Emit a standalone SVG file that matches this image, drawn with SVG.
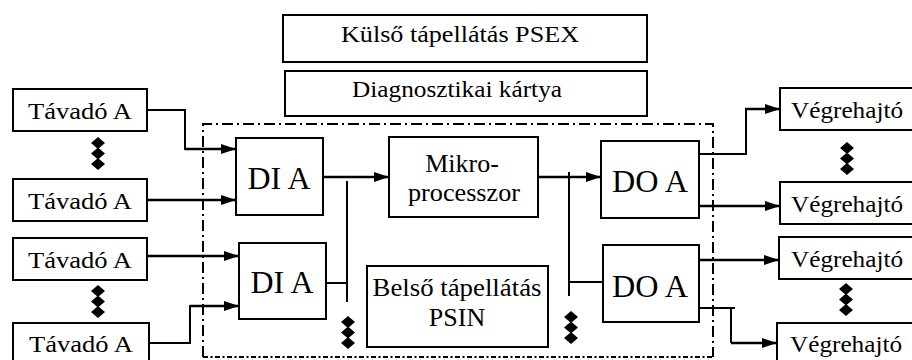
<svg xmlns="http://www.w3.org/2000/svg" width="912" height="360" viewBox="0 0 912 360">
<defs>
<style>
.box{fill:#fff;stroke:#000;stroke-width:2}
.t{font-family:"Liberation Serif","Times New Roman",serif;fill:#000;text-anchor:middle}
.s{font-size:24px}
.m{font-size:26px}
.b{font-size:31px}
.ln{fill:none;stroke:#000;stroke-width:2}
.ar{fill:none;stroke:#000;stroke-width:2.6;marker-end:url(#ah)}
.dd{fill:none;stroke:#000;stroke-width:2}
</style>
<marker id="ah" viewBox="0 0 15 10" refX="15" refY="5" markerWidth="15" markerHeight="10" markerUnits="userSpaceOnUse" orient="auto">
<path d="M0,0 L15,5 L0,10 z" fill="#000"/>
</marker>
<g id="dia">
<path d="M0,-6 L7,0 L0,6 L-7,0 z M0,4.5 L7,10.5 L0,16.5 L-7,10.5 z M0,15 L7,21 L0,27 L-7,21 z" fill="#000"/>
</g>
</defs>
<rect width="912" height="360" fill="#fff"/>

<g id="frame">
<path class="dd" d="M203,357 V124 H713 V357" stroke-dasharray="11 4 2 4"/>
<path class="dd" d="M203,357 H713" stroke-dasharray="5 2.5 2 2.5"/>
</g>

<g id="connectors">
<path class="ln" d="M147,110 H185 V149 H189"/>
<path class="ar" d="M185,149 H236"/>
<path class="ar" d="M147,200 H236"/>
<path class="ar" d="M147,256 H239"/>
<path class="ln" d="M149,343 H190 V306 H193"/>
<path class="ar" d="M190,306 H239"/>
<path class="ar" d="M323,177 H389"/>
<path class="ln" d="M347,181 V302"/>
<path class="ln" d="M326,283 H347"/>
<path class="ar" d="M538,177 H601"/>
<path class="ln" d="M569,172 V296"/>
<path class="ln" d="M569,282 H603"/>
<path class="ln" d="M699,154 H746 V109"/>
<path class="ar" d="M745,109 H780"/>
<path class="ar" d="M699,206 H780"/>
<path class="ar" d="M699,260 H779"/>
<path class="ln" d="M699,308 H735 M731,308 V343"/>
<path class="ar" d="M731,343 H777"/>
</g>

<g id="psex">
<rect class="box" x="283" y="15" width="364" height="47"/>
<text class="t s" x="460" y="42" textLength="238" lengthAdjust="spacingAndGlyphs">Külső tápellátás PSEX</text>
</g>
<g id="diag">
<rect class="box" x="285" y="71" width="362" height="45"/>
<text class="t s" x="457" y="97" textLength="210" lengthAdjust="spacingAndGlyphs">Diagnosztikai kártya</text>
</g>

<g id="tavado1">
<rect class="box" x="13" y="89" width="134" height="42"/>
<text class="t s" x="80" y="119" textLength="104" lengthAdjust="spacingAndGlyphs">Távadó A</text>
</g>
<g id="tavado2">
<rect class="box" x="13" y="179" width="134" height="42"/>
<text class="t s" x="80" y="209" textLength="104" lengthAdjust="spacingAndGlyphs">Távadó A</text>
</g>
<g id="tavado3">
<rect class="box" x="13" y="238" width="134" height="42"/>
<text class="t s" x="80" y="268" textLength="104" lengthAdjust="spacingAndGlyphs">Távadó A</text>
</g>
<g id="tavado4">
<rect class="box" x="13" y="323" width="136" height="42"/>
<text class="t s" x="81" y="352" textLength="104" lengthAdjust="spacingAndGlyphs">Távadó A</text>
</g>

<g id="dia1"><use href="#dia" x="98" y="143"/></g>
<g id="dia2"><use href="#dia" x="98" y="291"/></g>
<g id="dia3"><use href="#dia" x="348" y="322"/></g>
<g id="dia4"><use href="#dia" x="571" y="317"/></g>
<g id="dia5"><use href="#dia" x="847" y="148"/></g>
<g id="dia6"><use href="#dia" x="846" y="289"/></g>

<g id="dia_a1">
<rect class="box" x="236" y="138" width="87" height="77"/>
<text class="t b" x="279" y="189" textLength="63" lengthAdjust="spacingAndGlyphs">DI A</text>
</g>
<g id="dia_a2">
<rect class="box" x="239" y="243" width="87" height="76"/>
<text class="t b" x="282" y="293" textLength="63" lengthAdjust="spacingAndGlyphs">DI A</text>
</g>

<g id="mikro">
<rect class="box" x="389" y="137" width="149" height="80"/>
<text class="t m" x="462" y="172">Mikro-</text>
<text class="t m" x="464" y="201" textLength="112" lengthAdjust="spacingAndGlyphs">processzor</text>
</g>

<g id="psin">
<rect class="box" x="367" y="266" width="181" height="81"/>
<text class="t m" x="457" y="296" textLength="169" lengthAdjust="spacingAndGlyphs">Belső tápellátás</text>
<text class="t m" x="457" y="326">PSIN</text>
</g>

<g id="doa1">
<rect class="box" x="601" y="141" width="98" height="77"/>
<text class="t b" x="650" y="192" textLength="76" lengthAdjust="spacingAndGlyphs">DO A</text>
</g>
<g id="doa2">
<rect class="box" x="603" y="245" width="96" height="77"/>
<text class="t b" x="650" y="297" textLength="76" lengthAdjust="spacingAndGlyphs">DO A</text>
</g>

<g id="veg1">
<rect class="box" x="780" y="88" width="140" height="42"/>
<text class="t s" x="847" y="118" textLength="112" lengthAdjust="spacingAndGlyphs">Végrehajtó</text>
</g>
<g id="veg2">
<rect class="box" x="780" y="182" width="140" height="42"/>
<text class="t s" x="847" y="212" textLength="112" lengthAdjust="spacingAndGlyphs">Végrehajtó</text>
</g>
<g id="veg3">
<rect class="box" x="779" y="237" width="140" height="42"/>
<text class="t s" x="847" y="267" textLength="112" lengthAdjust="spacingAndGlyphs">Végrehajtó</text>
</g>
<g id="veg4">
<rect class="box" x="777" y="323" width="140" height="42"/>
<text class="t s" x="846" y="352" textLength="112" lengthAdjust="spacingAndGlyphs">Végrehajtó</text>
</g>
</svg>
